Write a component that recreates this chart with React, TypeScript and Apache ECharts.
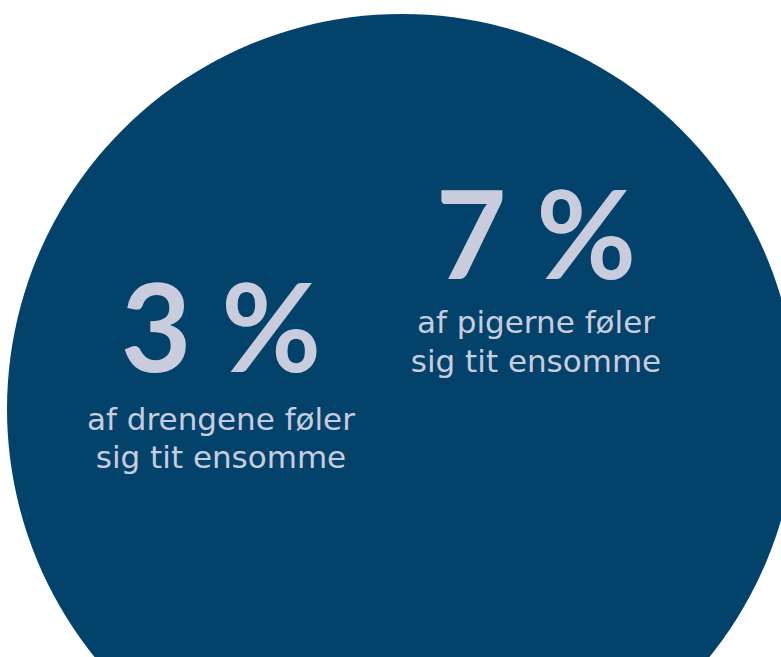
import React, { useEffect, useRef } from "react";
import * as echarts from "echarts";

const groups = ["drengene", "pigerne"];
const percentValues = [3, 7];
const captionLine1 = ["af drengene føler", "af pigerne føler"];
const captionLine2 = ["sig tit ensomme", "sig tit ensomme"];

const BG = "#02426b";
const FG = "#c9ccdd";

export default function App() {
  const ref = useRef<HTMLDivElement>(null);
  useEffect(() => {
    if (!ref.current) return;
    const chart = echarts.init(ref.current, undefined, { renderer: "svg" });
    const centers = [
      { x: 221, numY: 325, l1: 419, l2: 457 },
      { x: 536, numY: 232, l1: 322, l2: 361 },
    ];
    const texts: any[] = [];
    percentValues.forEach((v, i) => {
      const c = centers[i];
      texts.push({
        type: "text",
        x: c.x,
        y: c.numY,
        style: {
          text: `${v} %`,
          fill: FG,
          font: "700 122px Lato",
          textAlign: "center",
          textVerticalAlign: "middle",
        },
      });
      texts.push({
        type: "text",
        x: c.x,
        y: c.l1,
        style: {
          text: captionLine1[i],
          fill: FG,
          font: "400 31px 'DejaVu Sans'",
          textAlign: "center",
          textVerticalAlign: "middle",
        },
      });
      texts.push({
        type: "text",
        x: c.x,
        y: c.l2,
        style: {
          text: captionLine2[i],
          fill: FG,
          font: "400 31px 'DejaVu Sans'",
          textAlign: "center",
          textVerticalAlign: "middle",
        },
      });
    });
    chart.setOption({
      animation: false,
      backgroundColor: "#ffffff",
      graphic: [
        {
          type: "circle",
          shape: { cx: 402, cy: 409, r: 395 },
          style: { fill: BG },
        },
        ...texts,
      ],
    });
    return () => chart.dispose();
  }, []);
  return (
    <div
      ref={ref}
      style={{ position: "fixed", left: 0, top: 0, width: 781, height: 657 }}
      data-groups={groups.join(",")}
    />
  );
}
